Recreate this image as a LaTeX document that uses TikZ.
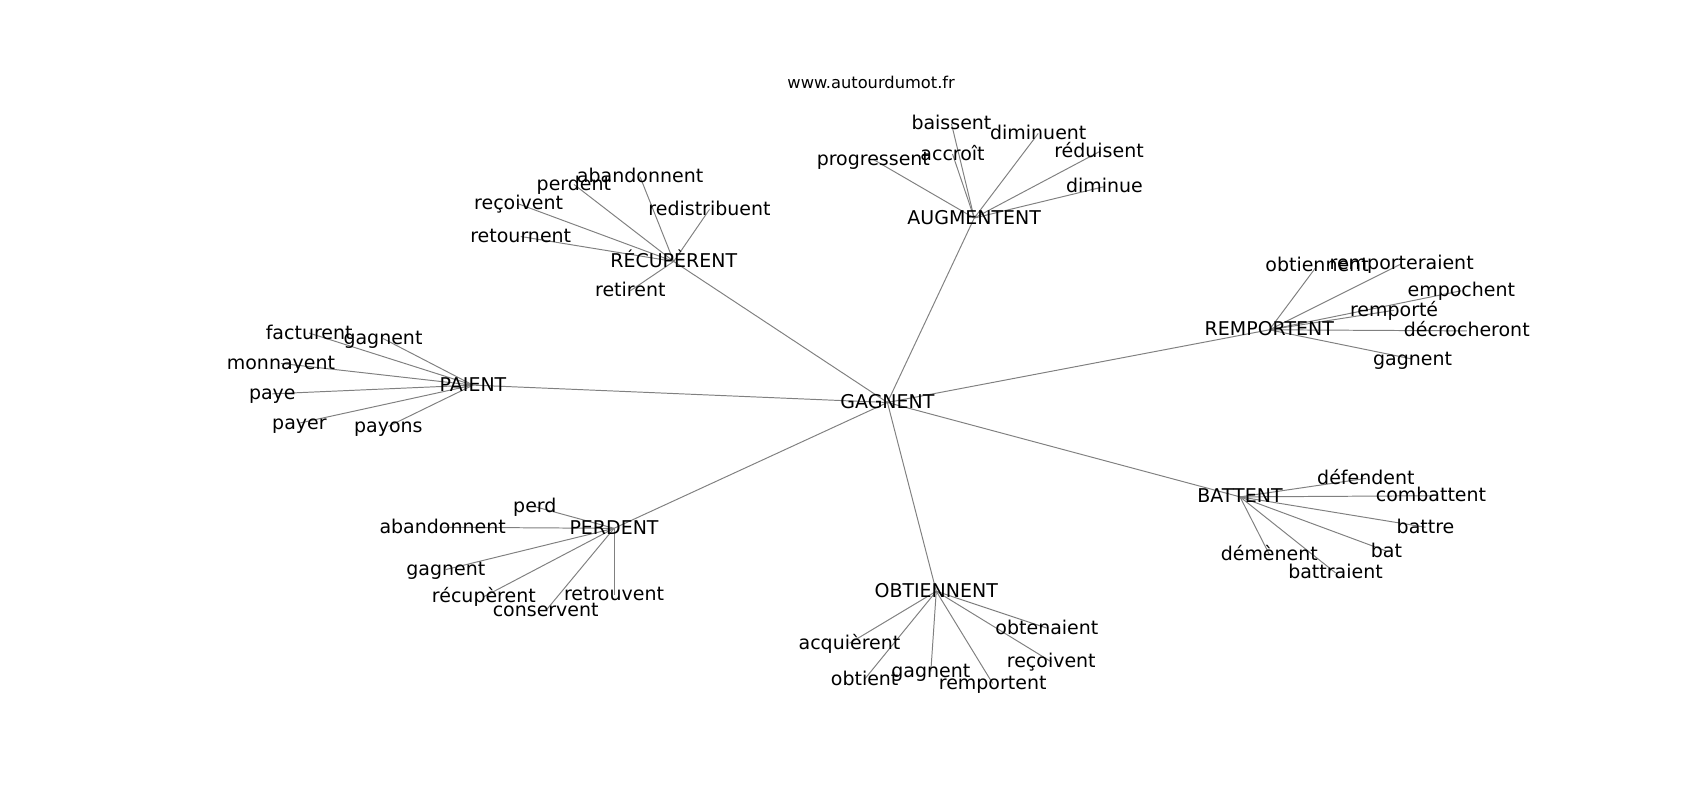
\documentclass[tikz,border=0pt]{standalone}
\usepackage{fontspec}
\setmainfont{DejaVu Sans}
\usepackage{tikz}
\usetikzlibrary{backgrounds}

\tikzset{
  mot/.style={inner sep=0pt, text height=0.76em, text depth=0.21em, font=\fontsize{8.75}{10}\selectfont},
  arete/.style={draw=gray, line width=0.45pt},
}

\begin{document}
\begin{tikzpicture}[x=0.5pt, y=-0.5pt]
  \useasboundingbox (0,0) rectangle (1567,737);
  % titre
  \node[font=\fontsize{7.5}{9}\selectfont] (titre) at (803,76) {www.autourdumot.fr};

\begin{scope}
  \clip (196,88) rectangle (1410,656);
  % mot central
  \node[mot] (G) at (818,371) {GAGNENT};
  \foreach \n/\x/\y/\t in {AUG/898/201/AUGMENTENT, REC/621/241/RÉCUPÈRENT, PAI/436/355/PAIENT,
    PER/566/487/PERDENT, OBT/863/545/OBTIENNENT, BAT/1143/458/BATTENT, REM/1170/304/REMPORTENT}
  {
    \node[mot] (\n) at (\x,\y) {\t};
  }

  % feuilles
  \foreach \i/\x/\y/\t in {1/805/147/progressent, 2/877/114/baissent, 3/878/142/accroît,
    4/957/123/diminuent, 5/1013/140/réduisent, 6/1018/172/diminue}
    \node[mot] (AUG\i) at (\x,\y) {\t};
  \foreach \i/\x/\y/\t in {1/590/163/abandonnent, 2/529/170/perdent, 3/478/188/reçoivent,
    4/654/193/redistribuent, 5/480/218/retournent, 6/581/268/retirent}
    \node[mot] (REC\i) at (\x,\y) {\t};
  \foreach \i/\x/\y/\t in {1/285/307/facturent, 2/353/312/gagnent, 3/259/335/monnayent,
    4/251/363/paye, 5/276/390/payer, 6/358/393/payons}
    \node[mot] (PAI\i) at (\x,\y) {\t};
  \foreach \i/\x/\y/\t in {1/493/467/perd, 2/408/486/abandonnent, 3/411/525/gagnent,
    4/446/550/récupèrent, 5/503/563/conservent, 6/566/548/retrouvent}
    \node[mot] (PER\i) at (\x,\y) {\t};
  \foreach \i/\x/\y/\t in {1/783/593/acquièrent, 2/797/626/obtient, 3/858/619/gagnent,
    4/915/630/remportent, 5/965/579/obtenaient, 6/969/610/reçoivent}
    \node[mot] (OBT\i) at (\x,\y) {\t};
  \foreach \i/\x/\y/\t in {1/1259/441/défendent, 2/1319/457/combattent, 3/1314/486/battre,
    4/1278/508/bat, 5/1170/511/démènent, 6/1231/528/battraient}
    \node[mot] (BAT\i) at (\x,\y) {\t};
  \foreach \i/\x/\y/\t in {1/1214/245/obtiennent, 2/1292/243/remporteraient, 3/1347/268/empochent,
    4/1285/286/remporté, 5/1352/305/décrocheront, 6/1302/331/gagnent}
    \node[mot] (REM\i) at (\x,\y) {\t};
\end{scope}

  % arêtes
  \begin{pgfonlayer}{background}
  \foreach \n in {AUG,REC,PAI,PER,OBT,BAT,REM}
  {
    \draw[arete] (G.center) -- (\n.center);
    \foreach \i in {1,...,6}
      \draw[arete] (\n.center) -- (\n\i.center);
  }
  \end{pgfonlayer}
\end{tikzpicture}
\end{document}
